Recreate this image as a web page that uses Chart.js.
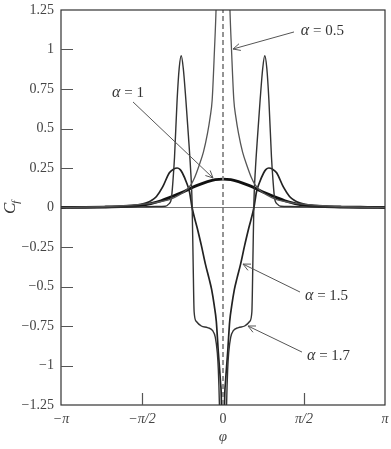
<!DOCTYPE html>
<html>
<head>
<meta charset="utf-8">
<script src="https://cdn.jsdelivr.net/npm/chart.js@4/dist/chart.umd.min.js"></script>
<style>
  html, body { margin: 0; padding: 0; background: #fff; }
  #wrap { width: 391px; height: 449px; }
</style>
</head>
<body>
<div id="wrap"><canvas id="myChart"></canvas></div>
<script>
const PI = Math.PI;

// alpha = 0.5 (spike at 0, runs off the top)
const phi05 = [-PI, -2.5, -2.0, -1.6, -1.43, -1.2, -1.0, -0.85, -0.75, -0.62, -0.55, -0.47, -0.38, -0.3, -0.25, -0.21, -0.165, -0.135, -0.08, -0.04,
               0.04, 0.08, 0.135, 0.165, 0.21, 0.25, 0.3, 0.38, 0.47, 0.55, 0.62, 0.75, 0.85, 1.0, 1.2, 1.43, 1.6, 2.0, 2.5, PI];
const cf05 = [0, 0.004, 0.01, 0.02, 0.025, 0.038, 0.055, 0.08, 0.1, 0.145, 0.19, 0.26, 0.35, 0.47, 0.57, 0.68, 1.0, 1.25, 2.0, 3.5,
              3.5, 2.0, 1.25, 1.0, 0.68, 0.57, 0.47, 0.35, 0.26, 0.19, 0.145, 0.1, 0.08, 0.055, 0.038, 0.025, 0.02, 0.01, 0.004, 0];

// alpha = 1 (smooth bump)
const phi1 = [-PI, -2.8, -2.3, -1.9, -1.6, -1.4, -1.2, -1.0, -0.8, -0.65, -0.5, -0.3, -0.15, 0,
              0.15, 0.3, 0.5, 0.65, 0.8, 1.0, 1.2, 1.4, 1.6, 1.9, 2.3, 2.8, PI];
const cf1 = [0, 0.001, 0.003, 0.007, 0.014, 0.025, 0.043, 0.068, 0.095, 0.118, 0.14, 0.164, 0.177, 0.18,
             0.177, 0.164, 0.14, 0.118, 0.095, 0.068, 0.043, 0.025, 0.014, 0.007, 0.003, 0.001, 0];

// alpha = 1.5
const phi15 = [-PI, -2.4, -2.0, -1.7, -1.5, -1.4, -1.29, -1.17, -1.04, -0.95, -0.89, -0.83, -0.79, -0.71, -0.65, -0.6, -0.5, -0.42, -0.34, -0.27, -0.22, -0.17, -0.13, -0.09, -0.05, -0.03, -0.015,
               0.015, 0.03, 0.05, 0.09, 0.13, 0.17, 0.22, 0.27, 0.34, 0.42, 0.5, 0.6, 0.65, 0.71, 0.79, 0.83, 0.89, 0.95, 1.04, 1.17, 1.29, 1.4, 1.5, 1.7, 2.0, 2.4, PI];
const cf15 = [0, 0.002, 0.005, 0.014, 0.028, 0.042, 0.07, 0.13, 0.22, 0.245, 0.25, 0.24, 0.22, 0.16, 0.1, 0.0, -0.13, -0.24, -0.36, -0.45, -0.52, -0.62, -0.72, -0.92, -1.1, -1.25, -1.8,
              -1.8, -1.25, -1.1, -0.92, -0.72, -0.62, -0.52, -0.45, -0.36, -0.24, -0.13, 0.0, 0.1, 0.16, 0.22, 0.24, 0.25, 0.245, 0.22, 0.13, 0.07, 0.042, 0.028, 0.014, 0.005, 0.002, 0];

// alpha = 1.7
const phi17 = [-PI, -2.2, -1.6, -1.3, -1.12, -1.06, -1.0, -0.97, -0.94, -0.89, -0.85, -0.81, -0.77, -0.72, -0.67, -0.63, -0.6, -0.58, -0.56, -0.52, -0.42, -0.3, -0.2, -0.15, -0.11, -0.09, -0.07, -0.05,
               0.05, 0.07, 0.09, 0.11, 0.15, 0.2, 0.3, 0.42, 0.52, 0.56, 0.58, 0.6, 0.63, 0.67, 0.72, 0.77, 0.81, 0.85, 0.89, 0.94, 0.97, 1.0, 1.06, 1.12, 1.3, 1.6, 2.2, PI];
const cf17 = [0, 0.002, 0.004, 0.006, 0.008, 0.02, 0.06, 0.17, 0.32, 0.68, 0.88, 0.96, 0.88, 0.68, 0.45, 0.25, 0.04, -0.33, -0.66, -0.72, -0.75, -0.76, -0.78, -0.82, -0.92, -1.03, -1.24, -1.6,
              -1.6, -1.24, -1.03, -0.92, -0.82, -0.78, -0.76, -0.75, -0.72, -0.66, -0.33, 0.04, 0.25, 0.45, 0.68, 0.88, 0.96, 0.88, 0.68, 0.32, 0.17, 0.06, 0.02, 0.008, 0.006, 0.004, 0.002, 0];

const xTickValues = [-PI, -PI / 2, 0, PI / 2, PI];
const xTickLabels = ['−π', '−π/2', '0', 'π/2', 'π'];
const yTickValues = [1.25, 1, 0.75, 0.5, 0.25, 0, -0.25, -0.5, -0.75, -1, -1.25];
const yTickLabels = ['1.25', '1', '0.75', '0.5', '0.25', '0', '−0.25', '−0.5', '−0.75', '−1', '−1.25'];

// curve labels: text spot, arrow start, arrow tip (data units)
const notes = [
  { value: '0.5', at: [1.51, 1.117], from: [1.377, 1.111], to: [0.194, 1.003] },
  { value: '1',   at: [-2.152, 0.725], from: [-1.745, 0.668], to: [-0.194, 0.187] },
  { value: '1.5', at: [1.59, -0.56], from: [1.493, -0.535], to: [0.388, -0.358] },
  { value: '1.7', at: [1.629, -0.94], from: [1.532, -0.915], to: [0.485, -0.75] }
];

const SERIF = '"Liberation Serif", "DejaVu Serif", serif';
const pts = (xs, ys) => xs.map((v, i) => ({ x: v, y: ys[i] }));

const curve = (xs, ys, color, width) => ({
  data: pts(xs, ys),
  borderColor: color,
  borderWidth: width,
  pointRadius: 0,
  cubicInterpolationMode: 'monotone',
  fill: false
});

const decorations = {
  id: 'decorations',
  afterDatasetsDraw(chart) {
    const { ctx, chartArea: a, scales: { x, y } } = chart;
    ctx.save();

    // frame
    ctx.strokeStyle = '#333';
    ctx.lineWidth = 1.2;
    ctx.strokeRect(a.left, a.top, a.right - a.left, a.bottom - a.top);

    // inward tick marks
    ctx.strokeStyle = '#555';
    ctx.beginPath();
    yTickValues.forEach(v => {
      if (Math.abs(v) === 1.25 || v === 0) return;
      const py = Math.round(y.getPixelForValue(v)) + 0.5;
      ctx.moveTo(a.left, py);
      ctx.lineTo(a.left + 12, py);
    });
    [-PI / 2, PI / 2].forEach(v => {
      const px = Math.round(x.getPixelForValue(v)) + 0.5;
      ctx.moveTo(px, a.bottom);
      ctx.lineTo(px, a.bottom - 12);
    });
    ctx.stroke();

    // arrows + labels
    ctx.strokeStyle = '#555';
    ctx.lineWidth = 1;
    ctx.fillStyle = '#333';
    ctx.textBaseline = 'middle';
    notes.forEach(n => {
      const x0 = x.getPixelForValue(n.from[0]), y0 = y.getPixelForValue(n.from[1]);
      const x1 = x.getPixelForValue(n.to[0]), y1 = y.getPixelForValue(n.to[1]);
      const ang = Math.atan2(y1 - y0, x1 - x0);
      ctx.beginPath();
      ctx.moveTo(x0, y0);
      ctx.lineTo(x1, y1);
      [0.45, -0.45].forEach(d => {
        ctx.moveTo(x1, y1);
        ctx.lineTo(x1 - 8 * Math.cos(ang + d), y1 - 8 * Math.sin(ang + d));
      });
      ctx.stroke();

      const tx = x.getPixelForValue(n.at[0]), ty = y.getPixelForValue(n.at[1]);
      ctx.textAlign = 'left';
      ctx.font = 'italic 16px ' + SERIF;
      ctx.fillText('α', tx, ty);
      const w = ctx.measureText('α').width;
      ctx.font = '15px ' + SERIF;
      ctx.fillText(' = ' + n.value, tx + w, ty);
    });

    // y title C_f
    ctx.translate(11, 208);
    ctx.rotate(-PI / 2);
    ctx.fillStyle = '#333';
    ctx.textAlign = 'left';
    ctx.textBaseline = 'alphabetic';
    ctx.font = 'italic 17px ' + SERIF;
    ctx.fillText('C', -6, 4);
    const cw = ctx.measureText('C').width;
    ctx.font = 'italic 11px ' + SERIF;
    ctx.fillText('f', -6 + cw - 1, 8);

    ctx.restore();
  }
};

new Chart(document.getElementById('myChart').getContext('2d'), {
  type: 'line',
  data: {
    datasets: [
      { data: pts([0, 0], [-1.25, 1.25]), borderColor: '#888', borderWidth: 1.8, borderDash: [5, 3], pointRadius: 0 },
      curve(phi05, cf05, '#555', 1.3),
      curve(phi17, cf17, '#333', 1.4),
      curve(phi15, cf15, '#222', 1.7),
      curve(phi1, cf1, '#111', 2.8),
      { data: pts([-PI, PI], [0, 0]), borderColor: '#777', borderWidth: 1.2, pointRadius: 0 }
    ]
  },
  options: {
    responsive: true,
    maintainAspectRatio: false,
    animation: false,
    layout: { padding: { top: 10, right: 6, left: 0, bottom: 0 } },
    plugins: { legend: { display: false }, tooltip: { enabled: false } },
    scales: {
      x: {
        type: 'linear',
        min: -PI,
        max: PI,
        afterBuildTicks: s => { s.ticks = xTickValues.map(v => ({ value: v })); },
        afterFit: s => { s.height = 44; s.paddingLeft = 0; s.paddingRight = 0; },
        grid: { display: false, drawTicks: false },
        border: { display: false },
        ticks: {
          autoSkip: false,
          maxRotation: 0,
          padding: 6,
          color: '#444',
          font: ctx => ({ family: SERIF, size: 14, style: ctx.index === 2 ? 'normal' : 'italic' }),
          callback: (v, i) => xTickLabels[i]
        },
        title: {
          display: true,
          text: 'φ',
          color: '#444',
          font: { family: SERIF, size: 15, style: 'italic' },
          padding: { top: 0, bottom: 3 }
        }
      },
      y: {
        type: 'linear',
        min: -1.25,
        max: 1.25,
        afterBuildTicks: s => { s.ticks = yTickValues.map(v => ({ value: v })); },
        afterFit: s => { s.width = 61; s.paddingTop = 0; s.paddingBottom = 0; },
        grid: { display: false, drawTicks: false },
        border: { display: false },
        ticks: {
          autoSkip: false,
          padding: 7,
          color: '#444',
          font: { family: SERIF, size: 14 },
          callback: (v, i) => yTickLabels[i]
        }
      }
    }
  },
  plugins: [decorations]
});
</script>
</body>
</html>
